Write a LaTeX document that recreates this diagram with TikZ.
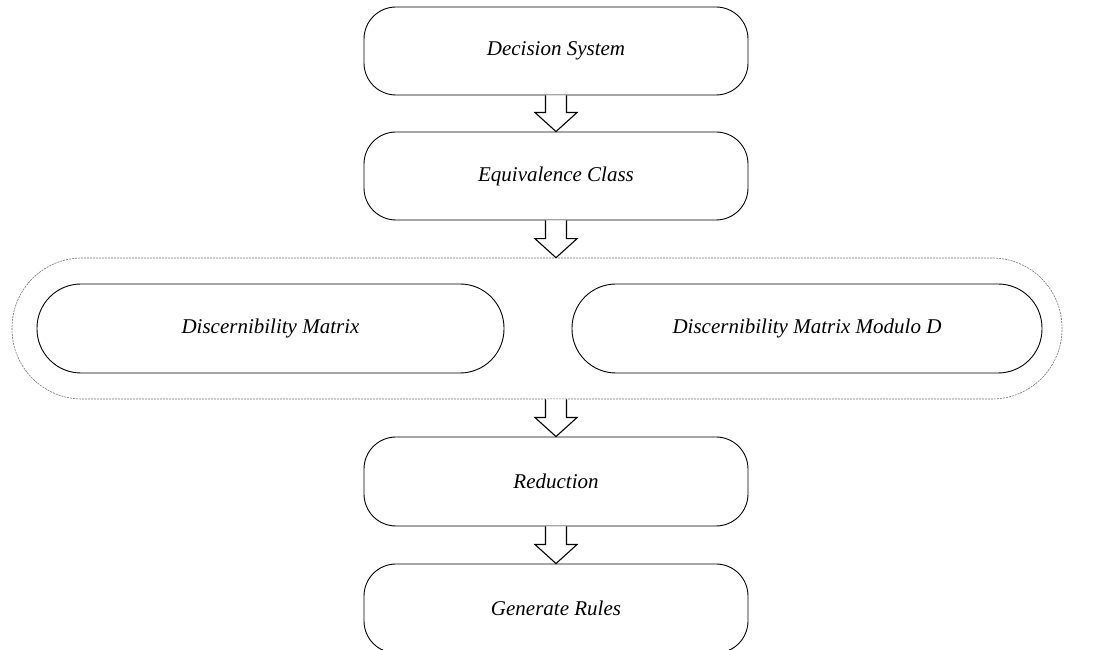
\documentclass[tikz,border=0pt]{standalone}
\usepackage{fontspec}
\setmainfont{Liberation Serif}
\usetikzlibrary{calc}
\tikzset{
  stepbox/.style={draw=black, line width=0.9pt, rounded corners=32pt, minimum width=384pt, minimum height=88pt, inner sep=0pt, font=\fontsize{21}{25}\selectfont\itshape},
  pillbox/.style={draw=black, line width=0.9pt, rounded corners=44pt, minimum height=89pt, inner sep=0pt, font=\fontsize{21}{25}\selectfont\itshape},
  groupbox/.style={draw=black!55, line width=0.6pt, dash pattern=on 2pt off 1pt, rounded corners=70pt, minimum width=1050pt, minimum height=141pt, inner sep=0pt},
  blk/.style={draw=black, line width=1.1pt, fill=white, line join=miter}
}
\newcommand{\blockarrow}[2]{%
  \draw[blk] ($(#1)+(-10.5,0)$) -- ($(#2)+(-10.5,19)$) -- ($(#2)+(-21,19)$) -- (#2) -- ($(#2)+(21,19)$) -- ($(#2)+(10.5,19)$) -- ($(#1)+(10.5,0)$);}
\begin{document}
\begin{tikzpicture}[x=1pt,y=1pt]
\useasboundingbox (0,0) rectangle (1098,650);
\clip (0,0) rectangle (1098,650);
\node[stepbox] (ds) at (556,599) {Decision System};
\node[stepbox] (ec) at (556,474) {Equivalence Class};
\node[groupbox] (grp) at (537,321.5) {};
\node[pillbox, minimum width=467pt] (dm) at (270.5,321.5) {Discernibility Matrix};
\node[pillbox, minimum width=470pt] (dmd) at (807,321.5) {Discernibility Matrix Modulo D};
\node[stepbox, minimum height=89pt] (red) at (556,168.5) {Reduction};
\node[stepbox, minimum height=89pt] (gr) at (556,41.5) {Generate Rules};
\coordinate (a2tip) at (ec.south |- grp.north);
\coordinate (a3top) at (red.north |- grp.south);
\blockarrow{ds.south}{ec.north}
\blockarrow{ec.south}{a2tip}
\blockarrow{a3top}{red.north}
\blockarrow{red.south}{gr.north}
\end{tikzpicture}
\end{document}
